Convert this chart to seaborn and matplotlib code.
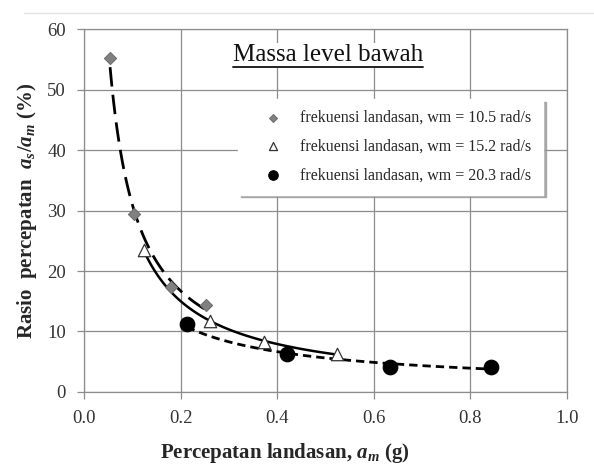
import numpy as np
import matplotlib
matplotlib.use("Agg")
import matplotlib.pyplot as plt
import seaborn as sns
from matplotlib.lines import Line2D

# data
am_105 = [0.054, 0.103, 0.18, 0.253]
ratio_105 = [55.2, 29.4, 17.4, 14.3]
am_152 = [0.124, 0.261, 0.373, 0.523]
ratio_152 = [23.5, 11.7, 8.3, 6.3]
am_203 = [0.213, 0.421, 0.634, 0.843]
ratio_203 = [11.2, 6.2, 4.2, 4.2]
labels = ["frekuensi landasan, wm = 10.5 rad/s",
          "frekuensi landasan, wm = 15.2 rad/s",
          "frekuensi landasan, wm = 20.3 rad/s"]
x_ticks = [0.0, 0.2, 0.4, 0.6, 0.8, 1.0]
y_ticks = [0, 10, 20, 30, 40, 50, 60]

sns.set_style("white")
plt.rcParams['font.family'] = ['Liberation Serif', 'DejaVu Serif']
plt.rcParams['mathtext.fontset'] = 'custom'
plt.rcParams['mathtext.it'] = 'Liberation Serif:bold:italic'
plt.rcParams['mathtext.rm'] = 'Liberation Serif:bold'

fig = plt.figure(figsize=(5.94, 4.76), dpi=100)
ax = fig.add_axes([0.1414, 0.1765, 0.8131, 0.7625])


def power_fit(x, y):
    b, a = np.polyfit(np.log(x), np.log(y), 1)
    xs = np.linspace(min(x), max(x), 100)
    return xs, np.exp(a) * xs ** b


# trend lines (power fits of each series)
xs, ys = power_fit(am_105, ratio_105)
ax.plot(xs, ys, color='black', lw=2, dashes=(7, 3), zorder=3)
xs, ys = power_fit(am_152, ratio_152)
ax.plot(xs, ys, color='black', lw=1.8, zorder=3)
xs, ys = power_fit(am_203, ratio_203)
ax.plot(xs, ys, color='black', lw=2, dashes=(3, 1.8), zorder=3)

sns.scatterplot(x=am_105, y=ratio_105, marker='D', color='#808080', s=38,
                edgecolor='#707070', linewidth=0.8, label=labels[0], ax=ax, zorder=4)
sns.scatterplot(x=am_152, y=ratio_152, marker='^', facecolor='white', s=80,
                edgecolor='#333333', linewidth=0.9, label=labels[1], ax=ax, zorder=4)
sns.scatterplot(x=am_203, y=ratio_203, marker='o', color='black', s=110,
                edgecolor='black', label=labels[2], ax=ax, zorder=4)

ax.set_xlim(0, 1.0)
ax.set_ylim(0, 60)
ax.set_xticks(x_ticks)
ax.set_yticks(y_ticks)
ax.set_xticklabels(["%.1f" % v for v in x_ticks])
ax.grid(True, color='#8c8c8c', lw=0.9)
for s in ax.spines.values():
    s.set_color('#8c8c8c')
    s.set_linewidth(0.9)
ax.tick_params(axis='both', labelsize=13.5, colors='#8c8c8c', labelcolor='#333333',
               length=5, width=0.9, direction='out', left=True, bottom=True, pad=8)

ax.set_xlabel("Percepatan landasan, $a_m$ (g)", fontsize=15, fontweight='bold')
ax.xaxis.set_label_coords(0.416, -0.135)
ax.set_ylabel("Rasio  percepatan  $a_s/a_m$ (%)", fontsize=15, fontweight='bold', labelpad=6)

leg = ax.legend(loc='upper left', bbox_to_anchor=(0.319, 0.808), fontsize=11.5,
                frameon=True, fancybox=False, shadow={'color': '#999999', 'alpha': 0.8},
                edgecolor='white', framealpha=1, borderpad=0.7, labelspacing=0.8,
                handletextpad=0.2, handlelength=3.0, borderaxespad=0, markerscale=0.65)

title = ax.text(0.505, 0.928, "Massa level bawah", transform=ax.transAxes,
                fontsize=18, ha='center', va='center', color='#111111',
                bbox=dict(facecolor='white', edgecolor='none', pad=1))

# underline for the title
fig.canvas.draw()
bb = title.get_window_extent(fig.canvas.get_renderer())
W, H = fig.bbox.width, fig.bbox.height
fig.add_artist(Line2D([bb.x0 / W, bb.x1 / W], [(bb.y0 - 1) / H, (bb.y0 - 1) / H],
                      color='#111111', lw=1.3))

# faint chart-area border at the top
fig.add_artist(Line2D([0.04, 1.0], [1 - 13 / 476, 1 - 13 / 476], color='#e4e4e4', lw=1))

fig.savefig("out.png", dpi=100)
